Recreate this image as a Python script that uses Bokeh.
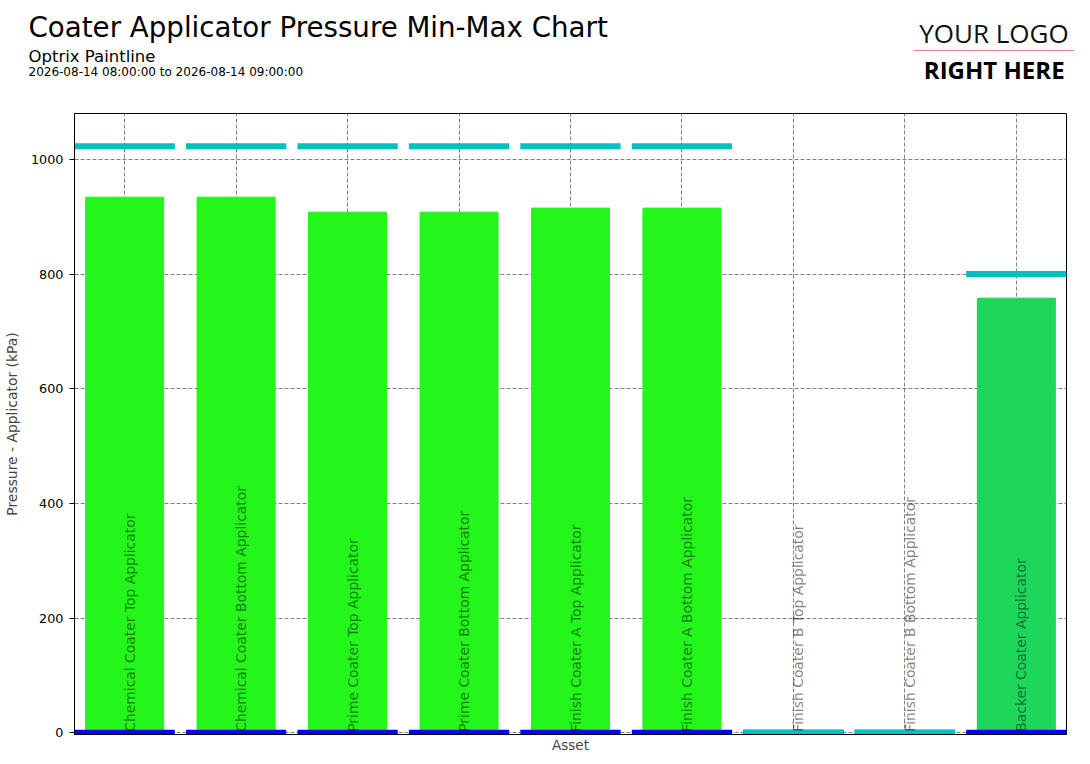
import math
from bokeh.plotting import figure
from bokeh.layouts import column
from bokeh.models import Range1d, FixedTicker, ColumnDataSource
from bokeh.core.properties import value
from bokeh.embed import file_html
from bokeh.resources import INLINE

# ---- data ----
assets = [
    "Chemical Coater Top Applicator",
    "Chemical Coater Bottom Applicator",
    "Prime Coater Top Applicator",
    "Prime Coater Bottom Applicator",
    "Finish Coater A Top Applicator",
    "Finish Coater A Bottom Applicator",
    "Finish Coater B Top Applicator",
    "Finish Coater B Bottom Applicator",
    "Backer Coater Applicator",
]
current_vals = [934, 934, 908, 908, 915, 915, 0, 0, 758]
min_vals = [0, 0, 0, 0, 0, 0, 0, 0, 0]
max_vals = [1023, 1023, 1023, 1023, 1023, 1023, 0, 0, 800]
bar_colors = ["#24F51A", "#24F51A", "#24F51A", "#24F51A", "#24F51A", "#24F51A",
              "#24F51A", "#24F51A", "#1DD75A"]
y_ticks = [0, 200, 400, 600, 800, 1000]

title_text = "Coater Applicator Pressure Min-Max Chart"
subtitle_text = "Optrix Paintline"
range_text = "2026-08-14 08:00:00 to 2026-08-14 09:00:00"

FONT = "DejaVu Sans"
W = 1090
HDR_H = 108

# ---- header (its own plot; coordinates are pixels from the top-left) ----
hdr = figure(width=W, height=HDR_H, output_backend="svg", toolbar_location=None,
             x_range=Range1d(0, W), y_range=Range1d(HDR_H, 0),
             min_border=0, outline_line_color=None, frame_align=False)
hdr.axis.visible = False
hdr.grid.visible = False
hdr.text(x=[28], y=[27], text=[title_text], text_font=value(FONT),
         text_font_size="27.7px", text_color="black", text_baseline="alphabetic")
hdr.text(x=[28], y=[55.5], text=[subtitle_text], text_font=value(FONT),
         text_font_size="16.5px", text_color="black", text_baseline="alphabetic")
hdr.text(x=[28], y=[71.5], text=[range_text], text_font=value(FONT),
         text_font_size="12px", text_color="black", text_baseline="alphabetic")
hdr.text(x=[993.5], y=[32.5], text=["YOUR LOGO"], text_font=value("Open Sans"),
         text_font_size="26px", text_color="#111111", text_align="center",
         text_baseline="alphabetic")
hdr.segment(x0=[913], y0=[50], x1=[1074], y1=[50], line_color="#F08080", line_width=1)
hdr.text(x=[993.7], y=[68.5], text=["RIGHT HERE"], text_font=value("Open Sans"),
         text_font_size="24px", text_font_style="bold", text_color="black",
         text_align="center", text_baseline="alphabetic")

# ---- chart ----
xs = list(range(len(assets)))
src = ColumnDataSource(dict(x=xs, cur=current_vals, mn=min_vals, mx=max_vals,
                            color=bar_colors, name=assets,
                            x0=[x - 0.45 for x in xs], x1=[x + 0.45 for x in xs]))

p = figure(width=W, height=764 - HDR_H, output_backend="svg", toolbar_location=None,
           x_range=Range1d(-0.45, 8.45), y_range=Range1d(-3, 1080),
           min_border_top=5, min_border_left=74, min_border_right=24,
           min_border_bottom=30, frame_align=False)
p.outline_line_color = "black"
p.outline_line_alpha = 1
p.outline_line_width = 1

p.vbar(x="x", top="cur", bottom=0, width=0.7, color="color", source=src)
p.segment(x0="x0", y0="mn", x1="x1", y1="mn", line_color="#0000FF", line_width=6, source=src)
p.segment(x0="x0", y0="mx", x1="x1", y1="mx", line_color="#00C0C0", line_width=6, source=src)
p.text(x="x", y=0, text="name", angle=math.pi / 2, source=src,
       text_font=value(FONT), text_font_size="13.9px", text_color="black",
       text_alpha=0.5, text_align="left", text_baseline="top",
       x_offset=-3, y_offset=-1)

# axes
p.xaxis.ticker = FixedTicker(ticks=xs)
p.xaxis.major_label_overrides = {x: "" for x in xs}
p.xaxis.major_tick_out = 0
p.xaxis.major_tick_in = 0
p.xaxis.minor_tick_out = 0
p.xaxis.major_label_standoff = 0
p.xaxis.axis_label = "Asset"
p.xaxis.axis_label_standoff = 2
p.xaxis.axis_label_text_font = FONT
p.xaxis.axis_label_text_font_size = "13.5px"
p.xaxis.axis_label_text_font_style = "normal"

p.yaxis.ticker = FixedTicker(ticks=y_ticks)
p.yaxis.major_tick_out = 5
p.yaxis.major_tick_in = 0
p.yaxis.minor_tick_out = 0
p.yaxis.minor_tick_in = 0
p.yaxis.major_label_standoff = 6
p.yaxis.major_label_text_font = FONT
p.yaxis.major_label_text_font_size = "12.8px"
p.yaxis.major_label_text_color = "black"
p.yaxis.axis_label = "Pressure - Applicator (kPa)"
p.yaxis.axis_label_standoff = 8
p.yaxis.axis_label_text_font = FONT
p.yaxis.axis_label_text_font_size = "13.9px"
p.yaxis.axis_label_text_font_style = "normal"
p.axis.axis_line_color = "black"
p.axis.major_tick_line_color = "black"

p.grid.grid_line_color = "#808080"
p.grid.grid_line_dash = "4 2"
p.grid.grid_line_width = 1

layout = column(hdr, p)
open("out.html", "w").write(file_html(layout, INLINE))
